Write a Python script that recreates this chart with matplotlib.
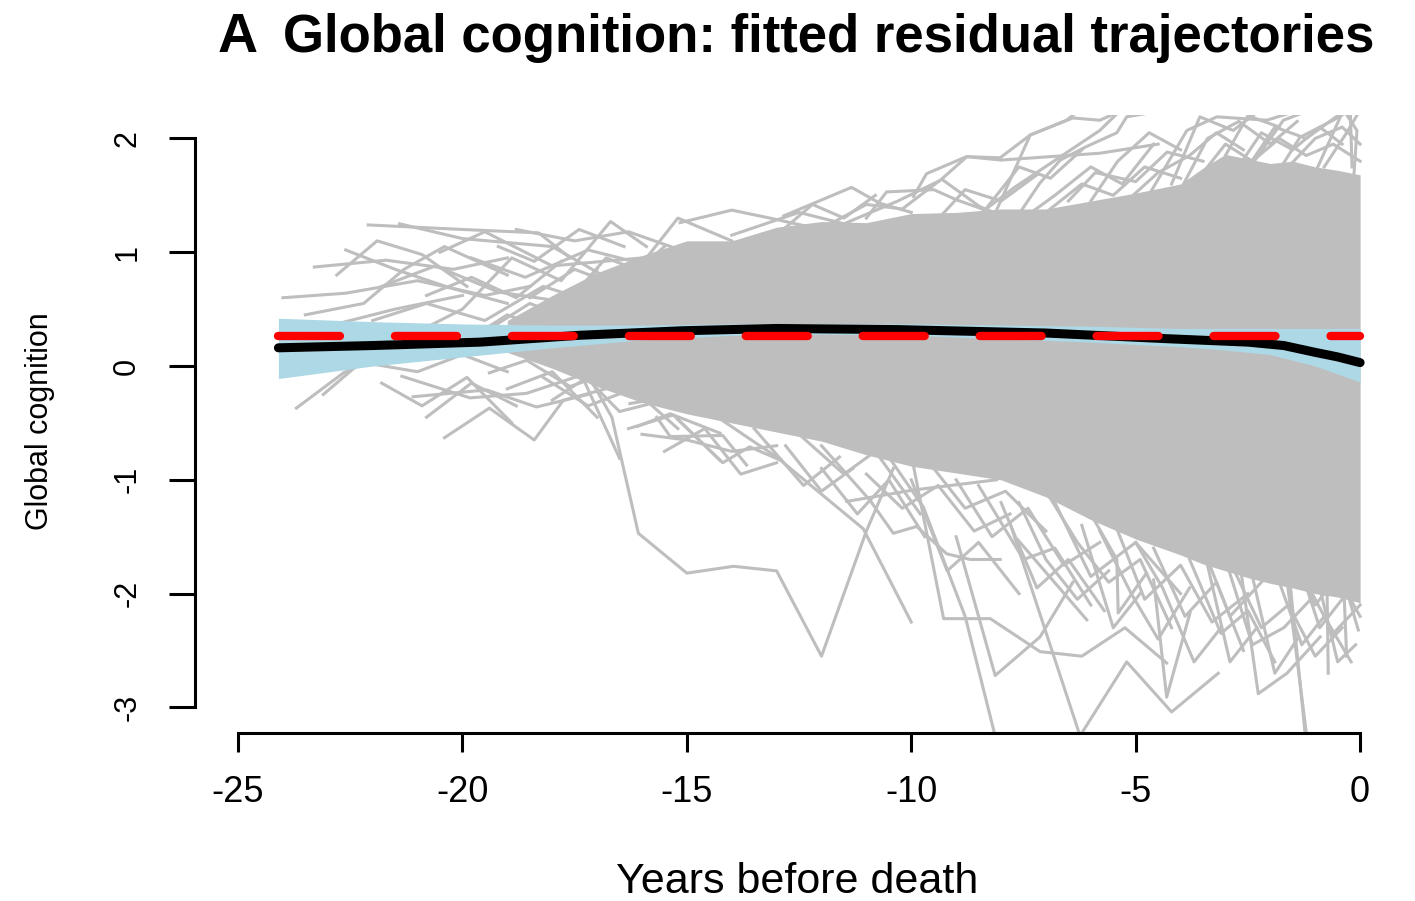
import matplotlib
matplotlib.use("Agg")
import matplotlib.pyplot as plt

plt.rcParams['font.family'] = ['Liberation Sans', 'DejaVu Sans']
plt.rcParams['lines.scale_dashes'] = False

# ---------------- data ----------------
x_ticks = [-25, -20, -15, -10, -5, 0]
y_ticks = [-3, -2, -1, 0, 1, 2]

# dense core of the individual trajectories (envelope of the solid grey mass)
core_years = [-19, -18, -17, -16, -15, -14, -13, -12, -11, -10, -9, -8, -7, -6, -5,
              -4, -3.5, -3, -2.5, -2, -1.5, -1, -0.5, 0]
core_upper = [0.40, 0.62, 0.82, 0.97, 1.10, 1.10, 1.22, 1.27, 1.26, 1.34, 1.35, 1.38,
              1.38, 1.45, 1.52, 1.60, 1.74, 1.86, 1.82, 1.78, 1.80, 1.75, 1.72, 1.68]
core_lower = [0.12, -0.02, -0.18, -0.32, -0.42, -0.50, -0.58, -0.66, -0.78, -0.88, -0.94,
              -1.00, -1.15, -1.35, -1.52, -1.66, -1.74, -1.80, -1.86, -1.91, -1.95,
              -2.00, -2.03, -2.08]

upper_left_paths = [
    [(-24.0, 0.60), (-22.6, 0.64), (-21.0, 0.75), (-19.5, 0.62), (-18.5, 0.70)],
    [(-23.3, 0.87), (-21.7, 0.93), (-20.2, 0.85), (-19.0, 0.95)],
    [(-22.1, 1.24), (-20.0, 1.20), (-18.3, 1.17), (-17.6, 0.95)],
    [(-21.4, 1.25), (-20.0, 1.12), (-18.0, 1.05), (-16.8, 0.78)],
    [(-22.6, 1.02), (-21.5, 0.85), (-20.3, 0.69), (-19.0, 0.55)],
    [(-23.5, 0.45), (-22.2, 0.55), (-21.3, 0.85), (-20.4, 1.05), (-19.0, 0.80)],
    [(-21.0, 0.30), (-20.0, 0.50), (-18.9, 0.95), (-17.8, 0.75), (-16.7, 1.27), (-15.9, 1.05)],
    [(-19.8, 0.95), (-18.6, 0.78), (-17.2, 1.02), (-16.0, 0.90), (-15.2, 1.30), (-14.0, 1.10)],
    [(-20.5, 1.00), (-19.5, 1.18), (-18.0, 0.88), (-16.0, 0.95)],
    [(-22.0, 0.40), (-20.8, 0.55), (-19.5, 0.40), (-18.2, 0.70), (-17.0, 0.55)],
    [(-15.15, 1.26), (-14.0, 1.37), (-13.15, 1.30), (-12.0, 1.20)],
    [(-21.8, 0.70), (-20.6, 0.88), (-19.2, 0.65), (-18.0, 0.58)],
    [(-20.0, 0.20), (-19.0, 0.45), (-18.0, 0.30), (-17.0, 0.85)],
    [(-18.8, 1.20), (-17.5, 1.10), (-16.3, 1.18), (-15.0, 1.00)],
    [(-23.0, 0.35), (-21.5, 0.50), (-20.0, 0.62)],
    [(-18.5, 0.60), (-17.5, 0.85), (-16.5, 0.70), (-15.5, 1.05)],
    [(-17.8, 0.50), (-16.8, 0.95), (-15.8, 0.80)],
    [(-19.5, 0.30), (-18.5, 0.55), (-17.5, 0.40)],
    [(-20.8, 0.62), (-19.8, 0.78), (-18.8, 0.60), (-17.8, 0.92)],
    [(-22.8, 0.80), (-21.9, 1.10), (-20.9, 0.98), (-19.9, 0.70)],
    [(-19.2, 1.05), (-18.4, 0.92), (-17.4, 1.20), (-16.4, 1.05)],
]

lower_left_paths = [
    [(-23.7, -0.37), (-22.65, -0.06), (-22.06, 0.05)],
    [(-23.1, -0.25), (-22.36, 0.00), (-21.7, 0.13)],
    [(-21.35, -0.09), (-19.83, -0.28), (-18.57, -0.24), (-17.5, -0.10)],
    [(-21.1, -0.27), (-19.46, -0.21), (-18.35, -0.36), (-17.2, -0.25)],
    [(-20.4, -0.63), (-19.4, -0.37), (-18.4, -0.65), (-17.75, -0.30), (-16.8, -0.20)],
    [(-19.4, -0.06), (-18.57, 0.05), (-17.6, -0.18), (-16.4, -0.01)],
    [(-18.0, -0.30), (-17.3, -0.12), (-16.5, -0.81)],
    [(-16.27, -0.33), (-15.37, -0.27), (-14.26, -0.41)],
    [(-16.1, -0.53), (-15.37, -0.42), (-14.26, -0.59)],
    [(-22.5, 0.05), (-21.0, -0.05), (-20.0, 0.10), (-19.0, -0.05)],
    [(-20.8, -0.45), (-19.8, -0.15), (-18.8, -0.35)],
    [(-18.2, -0.10), (-17.2, -0.35), (-16.2, -0.20), (-15.2, -0.55)],
    [(-17.5, 0.00), (-16.5, -0.40), (-15.5, -0.30)],
    [(-19.0, -0.20), (-18.0, -0.05), (-17.0, -0.45)],
    [(-16.0, -0.60), (-15.0, -0.65), (-14.0, -0.75), (-13.0, -0.70)],
    [(-15.5, -0.75), (-14.6, -0.55), (-13.8, -0.95), (-13.0, -0.85)],
    [(-21.8, -0.15), (-20.9, -0.35), (-19.9, -0.10), (-18.9, -0.50)],
]

lower_mid_paths = [
    [(-17.1, -0.15), (-16.67, -0.45), (-16.08, -1.47), (-15.0, -1.82), (-13.96, -1.76),
     (-13.0, -1.80), (-12.0, -2.55), (-11.0, -1.45), (-10.4, -0.90)],
    [(-14.5, -0.40), (-13.0, -0.80), (-11.07, -1.43), (-10.0, -2.25)],
    [(-16.3, -0.55), (-15.3, -0.43), (-14.26, -0.83)],
    [(-15.67, -0.45), (-15.37, -0.62), (-14.2, -0.61), (-13.67, -0.87)],
    [(-15.2, -0.47), (-14.2, -0.85), (-13.6, -0.71), (-12.9, -0.83)],
    [(-11.44, -1.19), (-10.4, -1.12), (-9.96, -1.09), (-8.1, -1.00)],
    [(-12.0, -0.70), (-10.92, -1.18), (-10.4, -1.47), (-9.88, -1.41), (-9.21, -1.65),
     (-8.69, -1.70), (-8.02, -1.70)],
    [(-9.95, -0.88), (-9.28, -2.22), (-8.24, -2.22), (-7.13, -2.51), (-6.2, -2.55),
     (-5.24, -2.30), (-4.31, -2.61)],
    [(-10.5, -0.80), (-9.73, -1.24), (-8.8, -2.20), (-8.1, -3.30)],
    [(-12.5, -0.60), (-11.5, -0.95), (-10.8, -0.75), (-9.8, -1.30)],
    [(-13.5, -0.55), (-12.4, -1.05), (-11.6, -0.80)],
    [(-12.0, -0.90), (-11.2, -1.30), (-10.5, -1.00), (-9.7, -1.50)],
    [(-11.0, -0.95), (-10.2, -1.25), (-9.4, -1.05), (-8.6, -1.45), (-7.8, -1.30)],
    [(-12.8, -0.70), (-12.0, -1.10), (-11.3, -0.90)],
    [(-10.0, -1.00), (-9.2, -1.80), (-8.5, -1.55), (-7.6, -2.00)],
]

lower_right_paths = [
    [(-9.0, -1.50), (-8.13, -2.72), (-7.13, -2.38), (-6.4, -1.90)],
    [(-7.8, -1.38), (-6.24, -3.25), (-5.2, -2.60), (-4.2, -3.04), (-3.16, -2.70)],
    [(-7.62, -1.53), (-6.09, -2.23)],
    [(-6.0, -1.30), (-5.42, -1.70), (-5.39, -2.17), (-4.76, -1.82)],
    [(-4.6, -1.88), (-4.31, -2.91), (-3.79, -2.17)],
    [(-2.67, -1.76), (-2.27, -2.88), (-1.63, -2.70), (-0.89, -2.38)],
    [(-2.2, -1.20), (-1.63, -1.88), (-1.19, -3.25)],
    [(-2.0, -1.30), (-1.55, -1.95), (-1.22, -3.25)],
    [(-1.0, -1.50), (-0.74, -1.88), (-0.71, -2.70)],
    [(-0.8, -1.40), (-0.37, -1.88), (-0.30, -2.55)],
    [(-0.6, -1.50), (-0.37, -1.88), (-0.04, -2.32)],
    [(-9.5, -0.90), (-8.8, -1.25), (-7.9, -1.10), (-7.0, -1.45)],
    [(-6.8, -1.20), (-6.0, -1.85), (-5.0, -1.55), (-4.0, -2.00)],
    [(-3.5, -1.60), (-2.9, -2.20), (-2.2, -1.90)],
    [(-8.5, -1.05), (-7.5, -1.70), (-6.8, -1.60), (-6.0, -2.10)],
    [(-5.5, -1.35), (-4.8, -2.05), (-4.0, -1.75), (-3.3, -2.25), (-2.5, -2.00)],
    [(-1.5, -1.60), (-1.0, -2.10), (-0.5, -1.85), (0.0, -2.20)],
    [(-3.0, -1.70), (-2.4, -2.45), (-1.7, -2.30), (-1.1, -2.05)],
    [(-1.4, -1.70), (-0.9, -2.30), (-0.3, -2.00)],
    [(-9.0, -1.00), (-8.2, -1.50), (-7.4, -1.25), (-6.6, -1.75), (-5.8, -1.55)],
    [(-8.0, -1.20), (-7.2, -1.95), (-6.5, -1.70), (-5.7, -2.15)],
    [(-7.0, -1.10), (-6.3, -1.55), (-5.6, -1.90), (-4.9, -1.70), (-4.2, -2.30)],
    [(-5.8, -1.45), (-5.1, -2.00), (-4.5, -2.40), (-3.8, -1.95)],
    [(-4.6, -1.60), (-3.9, -2.20), (-3.2, -1.90), (-2.6, -2.50)],
    [(-3.8, -1.70), (-3.1, -2.35), (-2.5, -2.15), (-1.9, -2.60)],
    [(-2.8, -1.80), (-2.2, -2.30), (-1.6, -2.10), (-1.0, -2.55), (-0.4, -2.30)],
    [(-1.8, -1.90), (-1.3, -2.45), (-0.8, -2.20), (-0.2, -2.60)],
    [(-1.2, -1.90), (-0.6, -2.35), (0.0, -2.10)],
    [(-6.2, -1.40), (-5.5, -2.30), (-4.9, -2.00)],
    [(-3.4, -1.75), (-2.9, -2.60), (-2.3, -2.30)],
    [(-7.6, -1.20), (-7.0, -1.70), (-6.3, -2.05), (-5.6, -1.80)],
    [(-5.0, -1.55), (-4.4, -1.95), (-3.7, -2.60), (-3.1, -2.30)],
    [(-2.4, -1.85), (-1.9, -2.70), (-1.4, -2.40)],
    [(-0.9, -1.95), (-0.5, -2.60), (-0.1, -2.45)],
]

upper_right_paths = [
    [(-10.25, 1.46), (-9.36, 1.63), (-8.76, 1.84), (-8.02, 1.83), (-7.35, 2.03),
     (-6.54, 2.16), (-6.09, 2.30)],
    [(-12.84, 1.32), (-11.33, 1.57), (-10.7, 1.43), (-10.0, 1.35)],
    [(-11.0, 1.30), (-10.55, 1.53), (-9.5, 1.55), (-8.99, 1.46), (-8.2, 1.35)],
    [(-9.95, 1.49), (-9.66, 1.69), (-8.77, 1.84), (-8.0, 1.81), (-5.8, 1.87), (-4.5, 1.95)],
    [(-8.1, 1.37), (-7.35, 2.03), (-6.4, 2.18), (-5.8, 2.16), (-5.0, 2.30)],
    [(-8.6, 1.30), (-7.7, 1.57), (-5.8, 2.07), (-5.2, 2.30)],
    [(-9.28, 1.63), (-8.47, 1.40), (-7.73, 1.28)],
    [(-7.8, 1.22), (-7.13, 1.61), (-6.68, 1.81), (-6.09, 1.93), (-5.42, 2.05),
     (-5.2, 2.19), (-4.31, 2.25)],
    [(-5.5, 1.40), (-4.68, 1.52), (-3.86, 2.07), (-3.19, 2.19), (-2.08, 2.16), (-1.34, 2.25)],
    [(-4.2, 1.60), (-3.57, 2.19), (-2.83, 2.07), (-2.23, 2.25)],
    [(-3.2, 1.50), (-2.45, 1.75), (-1.71, 2.16), (-1.11, 2.25)],
    [(-2.0, 1.60), (-1.34, 2.01), (-0.6, 2.16), (-0.22, 2.25), (-0.18, 1.75)],
    [(-1.0, 1.70), (-0.37, 2.25), (-0.07, 2.07), (-0.15, 1.61)],
    [(-14.0, 1.15), (-12.5, 1.35), (-11.5, 1.25), (-10.3, 1.45)],
    [(-7.0, 1.35), (-6.2, 1.60), (-5.5, 1.50), (-4.8, 1.75), (-4.0, 1.65)],
    [(-3.6, 1.65), (-3.0, 1.95), (-2.4, 1.80), (-1.8, 2.00), (-1.2, 1.85), (-0.6, 1.95),
     (0.0, 1.80)],
    [(-6.5, 1.45), (-5.9, 1.70), (-5.0, 1.62), (-4.3, 1.88), (-3.5, 1.80)],
    [(-2.8, 1.70), (-2.2, 2.05), (-1.5, 1.90), (-0.9, 2.10), (-0.4, 1.95)],
    [(-13.0, 1.15), (-12.2, 1.42), (-11.5, 1.30), (-10.8, 1.50)],
    [(-9.5, 1.25), (-8.8, 1.55), (-8.0, 1.45), (-7.2, 1.68)],
    [(-7.5, 1.30), (-6.8, 1.50), (-6.0, 1.75), (-5.3, 1.60), (-4.6, 1.95)],
    [(-5.2, 1.45), (-4.5, 1.70), (-3.8, 1.85), (-3.2, 2.05), (-2.6, 1.90)],
    [(-4.0, 1.55), (-3.4, 2.00), (-2.7, 2.15), (-2.0, 1.95), (-1.4, 2.15)],
    [(-2.5, 1.75), (-1.9, 2.10), (-1.2, 2.00), (-0.5, 2.20)],
    [(-1.6, 1.75), (-1.0, 2.00), (-0.4, 2.10), (0.0, 1.95)],
    [(-11.8, 1.25), (-11.0, 1.42), (-10.2, 1.38), (-9.4, 1.62)],
    [(-8.4, 1.35), (-7.6, 1.75), (-6.9, 1.65), (-6.2, 1.90)],
    [(-6.0, 1.45), (-5.4, 1.80), (-4.7, 2.05), (-4.0, 1.90)],
    [(-3.0, 1.85), (-2.5, 2.20), (-1.8, 2.10)],
    [(-0.8, 1.75), (-0.3, 2.05), (0.0, 2.25)],
]

# fitted mean trajectory and its confidence band
fit_years = [-24.1, -22, -19.6, -17.4, -15.1, -13, -10.3, -7, -4.3, -2.5, -1.7, -1,
             -0.5, 0]
fit_values = [0.16, 0.18, 0.21, 0.27, 0.31, 0.33, 0.32, 0.29, 0.24, 0.21, 0.18, 0.12,
              0.08, 0.03]
band_years = [-24.1, -22, -20, -18, -16, -14, -12, -10, -8, -6, -4, -3, -2, -1, -0.5, 0]
band_upper = [0.42, 0.39, 0.37, 0.36, 0.36, 0.37, 0.37, 0.37, 0.36, 0.35, 0.33, 0.33,
              0.33, 0.33, 0.33, 0.33]
band_lower = [-0.11, 0.00, 0.08, 0.16, 0.23, 0.27, 0.28, 0.27, 0.24, 0.21, 0.17, 0.14,
              0.10, 0.00, -0.07, -0.14]

# reference (null) line
ref_years = [-24.1, 0]
ref_values = [0.26, 0.26]

# ---------------- figure ----------------
W, H = 1415, 901
fig = plt.figure(figsize=(W / 100, H / 100), dpi=100)
ax = fig.add_axes([195 / W, 1 - 733 / H, (1405 - 195) / W, (733 - 115) / H])

grey = '#BEBEBE'
ax.fill_between(core_years, core_lower, core_upper, color=grey, lw=0, zorder=1)
for group in (upper_left_paths, lower_left_paths, lower_mid_paths,
              lower_right_paths, upper_right_paths):
    for path in group:
        xs = [p[0] for p in path]
        ys = [p[1] for p in path]
        ax.plot(xs, ys, color=grey, lw=2.2, zorder=1, solid_joinstyle='round')

ax.fill_between(band_years, band_lower, band_upper, color='#ADD8E6', lw=0, zorder=2)
ax.plot(fit_years, fit_values, color='black', lw=6.5, solid_capstyle='round', zorder=3)
ax.plot(ref_years, ref_values, color='#FF0000', lw=6.0, dash_capstyle='round',
        linestyle=(0, (44.6, 39.6)), zorder=4)

ax.set_xlim(-25.958, 1.0)
ax.set_ylim(-3.225, 2.206)

for s in ('top', 'right'):
    ax.spines[s].set_visible(False)
ax.spines['left'].set_bounds(-3, 2)
ax.spines['bottom'].set_bounds(-25, 0)
for s in ('left', 'bottom'):
    ax.spines[s].set_linewidth(2.2)
    ax.spines[s].set_capstyle('projecting')

ax.set_xticks(x_ticks)
ax.set_xticklabels([str(v) for v in x_ticks])
ax.set_yticks(y_ticks)
ax.set_yticklabels([str(v) for v in y_ticks])
ax.tick_params(axis='x', length=14, width=2.2, labelsize=26, pad=16)
ax.tick_params(axis='y', length=19, width=2.2, labelsize=22, pad=19, labelrotation=90)
for lab in ax.get_yticklabels():
    lab.set_verticalalignment('center')

fig.text(218 / W, 1 - 52 / H, 'A', fontsize=40, fontweight='bold', ha='left',
         va='baseline')
fig.text(283 / W, 1 - 52 / H, 'Global cognition: fitted residual trajectories',
         fontsize=38, fontweight='bold', ha='left', va='baseline')
fig.text(40 / W, 1 - 421 / H, 'Global cognition', fontsize=22, rotation=90,
         ha='center', va='center')
fig.text(797 / W, 1 - 882 / H, 'Years before death', fontsize=31,
         ha='center', va='center')

fig.savefig('out.png', dpi=100)
